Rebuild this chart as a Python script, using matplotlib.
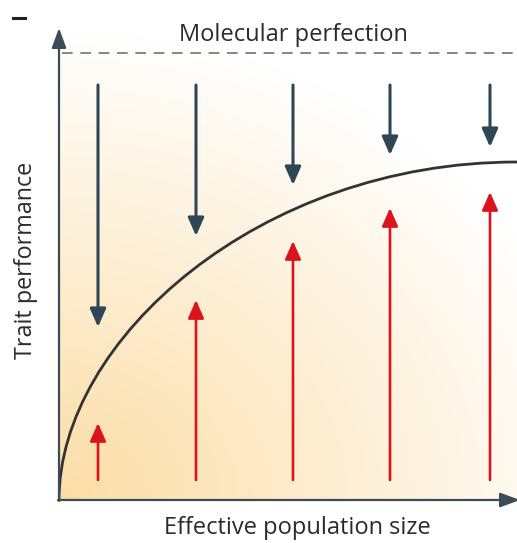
import numpy as np
import matplotlib
matplotlib.use("Agg")
import matplotlib.pyplot as plt
from matplotlib.path import Path
from matplotlib.patches import PathPatch
from matplotlib.lines import Line2D

plt.rcParams['font.family'] = ['Open Sans', 'DejaVu Sans']

# ---- data (arbitrary units) ----
arrow_x = [39, 137, 234, 331, 431]
drift_start = 415
drift_tips = [173, 264, 315, 345, 353]
selection_base = 20
selection_tips = [77, 200, 259, 292, 308]
# cubic Bezier control points of the performance curve
curve_ctrl_x = [0, 0, 200, 458]
curve_ctrl_y = [0, 160, 338, 338]
perfection_y = 447
xmax, ymax = 458, 472

title_text = "Molecular perfection"
xlabel_text = "Effective population size"
ylabel_text = "Trait performance"

W, H = 517, 543
fig = plt.figure(figsize=(W / 100, H / 100), dpi=100)
ax = fig.add_axes([59 / W, 43 / H, 458 / W, 472 / H])
ax.set_xlim(0, xmax)
ax.set_ylim(0, ymax)
ax.axis('off')

# background radial gradient
gx = np.linspace(0, xmax, 300)
gy = np.linspace(0, ymax, 300)
GX, GY = np.meshgrid(gx, gy)
d = np.sqrt((GX * 0.85) ** 2 + GY ** 2)
f = np.clip(d / 470.0, 0, 1)
orange = np.array([252, 221, 165]) / 255.0
white = np.array([1.0, 1.0, 1.0])
img = orange[None, None, :] * (1 - f[..., None]) + white[None, None, :] * f[..., None]
ax.imshow(img, extent=(0, xmax, 0, ymax), origin='lower', aspect='auto', zorder=0)

axis_col = '#3b4b57'
blue_col = '#2f4656'
red_col = '#d9141c'

# axes arrows
ax.annotate('', xy=(0, ymax), xytext=(0, -1),
            arrowprops=dict(arrowstyle='-|>,head_length=0.6,head_width=0.22', lw=1.6,
                            color=axis_col, mutation_scale=20, shrinkA=0, shrinkB=0),
            annotation_clip=False, zorder=5)
ax.annotate('', xy=(xmax + 3, 0), xytext=(-1, 0),
            arrowprops=dict(arrowstyle='-|>,head_length=0.6,head_width=0.22', lw=1.6,
                            color=axis_col, mutation_scale=20, shrinkA=0, shrinkB=0),
            annotation_clip=False, zorder=5)

# molecular perfection line
ax.plot([3, xmax], [perfection_y, perfection_y], color='#666666', lw=1.1,
        dashes=(7, 5), zorder=3, clip_on=False)

# curve (cubic Bezier)
verts = list(zip(curve_ctrl_x, curve_ctrl_y))
path = Path(verts, [Path.MOVETO, Path.CURVE4, Path.CURVE4, Path.CURVE4])
ax.add_patch(PathPatch(path, facecolor='none', edgecolor='#333333', lw=2.0, zorder=4,
                       capstyle='round'))

# arrows
for x, tip in zip(arrow_x, drift_tips):
    ax.annotate('', xy=(x, tip), xytext=(x, drift_start),
                arrowprops=dict(arrowstyle='-|>,head_length=0.5,head_width=0.22', lw=2.2,
                                color=blue_col, mutation_scale=22, shrinkA=0, shrinkB=0),
                zorder=6)
for x, tip in zip(arrow_x, selection_tips):
    ax.annotate('', xy=(x, tip), xytext=(x, selection_base),
                arrowprops=dict(arrowstyle='-|>,head_length=0.5,head_width=0.22', lw=1.9,
                                color=red_col, mutation_scale=22, shrinkA=0, shrinkB=0),
                zorder=6)

# texts
tc = '#2b2b2b'
fig.text(293 / W, 1 - 35 / H, title_text, ha='center', va='center', fontsize=17, color=tc)
fig.text(297 / W, 1 - 528 / H, xlabel_text, ha='center', va='center', fontsize=17, color=tc)
fig.text(26 / W, 1 - 260 / H, ylabel_text, ha='center', va='center', fontsize=16.8,
         rotation=90, color=tc)
fig.add_artist(Line2D([13 / W, 25 / W], [1 - 18 / H, 1 - 18 / H], color='#222222', lw=2.2))

fig.savefig('out.png', dpi=100)
